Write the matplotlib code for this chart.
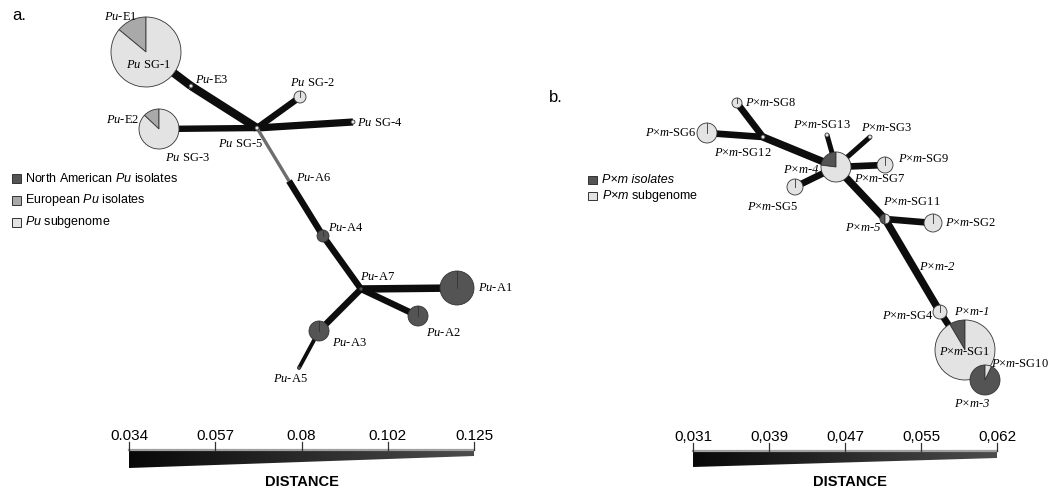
import numpy as np
import matplotlib.pyplot as plt
from matplotlib.patches import Wedge, Circle, Polygon, Rectangle
from matplotlib.colors import LinearSegmentedColormap

plt.rcParams['mathtext.fontset'] = 'custom'
plt.rcParams['mathtext.rm'] = 'Liberation Serif'
plt.rcParams['mathtext.it'] = 'Liberation Serif:italic'
plt.rcParams['mathtext.sf'] = 'Liberation Sans:italic'

DARK = '#545454'
EURO = '#a9a9a9'
LIGHT = '#e3e3e3'
COLS = (DARK, EURO, LIGHT)

# ---- panel a: network (layout in pixel units) ----
a_names = ['SG1', 'E3', 'SG5', 'SG2', 'SG4', 'SG3', 'A6', 'A4', 'A7', 'A1', 'A2', 'A3', 'A5']
a_x = [146, 191, 257, 300, 353, 159, 289, 323, 361, 457, 418, 319, 299]
a_y = [52, 86, 128, 97, 122, 129, 181, 236, 289, 288, 316, 331, 368]
a_r = [35, 2, 2, 6, 2, 20, 0, 6, 1.5, 17, 10, 10, 1.5]
# shares: north american, european, subgenome
a_parts = [(0, .14, .86), (0, 0, 1), (0, 0, 1), (0, 0, 1), (0, 0, 1), (0, .13, .87),
           (1, 0, 0), (1, 0, 0), (1, 0, 0), (1, 0, 0), (1, 0, 0), (1, 0, 0), (1, 0, 0)]
a_edges = [('SG1', 'E3', 6.0), ('E3', 'SG5', 6.0), ('SG3', 'SG5', 4.6), ('SG5', 'SG4', 5.2),
           ('SG5', 'SG2', 4.6), ('SG5', 'A6', 2.4), ('A6', 'A4', 4.6), ('A4', 'A7', 4.6),
           ('A7', 'A1', 5.4), ('A7', 'A2', 4.6), ('A7', 'A3', 4.6), ('A3', 'A5', 2.8)]
a_grey_edges = [('SG5', 'A6')]
a_labels = [r'$\mathit{Pu}$-E1', r'$\mathit{Pu}$ SG-1', r'$\mathit{Pu}$-E3', r'$\mathit{Pu}$ SG-2',
            r'$\mathit{Pu}$ SG-4', r'$\mathit{Pu}$-E2', r'$\mathit{Pu}$ SG-3', r'$\mathit{Pu}$ SG-5',
            r'$\mathit{Pu}$-A6', r'$\mathit{Pu}$-A4', r'$\mathit{Pu}$-A7', r'$\mathit{Pu}$-A1',
            r'$\mathit{Pu}$-A2', r'$\mathit{Pu}$-A3', r'$\mathit{Pu}$-A5']
a_lab_x = [121, 148, 195, 312, 357, 139, 187, 240, 296, 328, 360, 478, 443, 332, 290]
a_lab_y = [17, 65, 80, 83, 123, 120, 158, 144, 178, 228, 277, 288, 333, 343, 379]
a_lab_ha = ['center', 'center', 'left', 'center', 'left', 'right', 'center', 'center',
            'left', 'left', 'left', 'left', 'center', 'left', 'center']
a_legend = [r'North American $\mathsf{Pu}$ isolates', r'European $\mathsf{Pu}$ isolates',
            r'$\mathsf{Pu}$ subgenome']
a_scale = ['0.034', '0.057', '0.08', '0.102', '0.125']

# ---- panel b ----
b_names = ['SG8', 'SG6', 'SG12', 'SG13', 'SG3', 'SG7', 'SG9', 'SG5', 'X5', 'SG2', 'SG4', 'SG1', 'X3']
b_x = [737, 707, 763, 827, 870, 836, 885, 795, 885, 933, 940, 965, 985]
b_y = [103, 133, 137, 135, 137, 167, 165, 187, 219, 223, 312, 350, 380]
b_r = [5, 10, 2, 2, 2, 15, 8, 8, 5, 9, 7, 30, 15]
# shares: isolates, subgenome
b_parts = [(0, 1), (0, 1), (0, 1), (0, 1), (0, 1), (.23, .77), (0, 1), (0, 1), (.5, .5),
           (0, 1), (0, 1), (.085, .915), (.93, .07)]
b_edges = [('SG8', 'SG12', 4.8), ('SG6', 'SG12', 4.8), ('SG12', 'SG7', 5.4), ('SG13', 'SG7', 3.6),
           ('SG3', 'SG7', 3.6), ('SG9', 'SG7', 4.8), ('SG5', 'SG7', 4.8), ('SG7', 'X5', 5.4),
           ('X5', 'SG2', 4.8), ('X5', 'SG4', 5.4), ('SG4', 'SG1', 4.8)]
b_labels = [r'$\mathit{P×m}$-SG8', r'$\mathit{P×m}$-SG6', r'$\mathit{P×m}$-SG12',
            r'$\mathit{P×m}$-SG13', r'$\mathit{P×m}$-SG3', r'$\mathit{P×m}$-SG9', 'P×m-4',
            r'$\mathit{P×m}$-SG7', r'$\mathit{P×m}$-SG5', r'$\mathit{P×m}$-SG11', 'P×m-5',
            r'$\mathit{P×m}$-SG2', 'P×m-2', r'$\mathit{P×m}$-SG4', 'P×m-1',
            r'$\mathit{P×m}$-SG1', r'$\mathit{P×m}$-SG10', 'P×m-3']
b_lab_x = [745, 697, 743, 822, 887, 898, 818, 854, 773, 912, 880, 945, 937, 934, 972, 965, 991, 972]
b_lab_y = [103, 133, 153, 125, 128, 159, 170, 179, 207, 202, 228, 223, 267, 316, 312, 352, 364, 404]
b_lab_ha = ['left', 'right', 'center', 'center', 'center', 'left', 'right', 'left', 'center',
            'center', 'right', 'left', 'center', 'right', 'center', 'center', 'left', 'center']
b_legend = ['P×m isolates', r'$\mathsf{P×m}$ subgenome']
b_scale = ['0,031', '0,039', '0,047', '0,055', '0,062']

fig = plt.figure(figsize=(10.54, 4.92), dpi=100)
ax = fig.add_axes([0, 0, 1, 1])
ax.set_xlim(0, 1054)
ax.set_ylim(492, 0)
ax.axis('off')


def pie(x, y, r, parts, cols):
    # y axis is inverted, so visual angle t is data angle -t
    if r <= 0:
        return
    start = 90
    nz = [p for p in parts if p > 0]
    if len(nz) == 1:
        c = cols[[i for i, p in enumerate(parts) if p > 0][0]]
        ax.add_patch(Circle((x, y), r, fc=c, ec='#333333', lw=0.6, zorder=3))
        if r >= 5:
            ax.plot([x, x], [y, y - r], color='#333333', lw=0.6, zorder=4)
        return
    for frac, col in zip(parts, cols):
        if frac <= 0:
            continue
        th = 360 * frac
        ax.add_patch(Wedge((x, y), r, -(start + th), -start, fc=col, ec='#333333', lw=0.6, zorder=3))
        start += th


def network(names, xs, ys, rs, parts, edges, cols, grey=()):
    pos = {n: (x, y) for n, x, y in zip(names, xs, ys)}
    for n1, n2, w in edges:
        c = '#6e6e6e' if (n1, n2) in grey else '#0d0d0d'
        ax.plot([pos[n1][0], pos[n2][0]], [pos[n1][1], pos[n2][1]], color=c, lw=w,
                solid_capstyle='butt', zorder=2)
    for x, y, r, p in zip(xs, ys, rs, parts):
        pie(x, y, r, p, cols)


def labels(txts, xs, ys, has):
    for t, x, y, ha in zip(txts, xs, ys, has):
        style = 'normal' if '$' in t else 'italic'
        ax.text(x, y, t, ha=ha, va='center', fontsize=9, family='Liberation Serif',
                style=style, zorder=5)


def scale(ticks, x0, x1, ytop, yl, yr, xmid):
    poly = Polygon([(x0, ytop), (x1, ytop), (x1, yr), (x0, yl)], closed=True,
                   fc='none', ec='none')
    ax.add_patch(poly)
    cmap = LinearSegmentedColormap.from_list('g', ['#080808', '#4c4c4c'])
    im = ax.imshow(np.linspace(0, 1, 256)[None, :], extent=(x0, x1, yl, ytop), cmap=cmap,
                   aspect='auto', zorder=2)
    im.set_clip_path(poly)
    ax.plot([x0, x1], [ytop - 1, ytop - 1], color='#a0a0a0', lw=1.6, zorder=3)
    for tx, t in zip(np.linspace(x0, x1, len(ticks)), ticks):
        ax.plot([tx, tx], [ytop - 9, ytop - 1], color='#333333', lw=0.9, zorder=3)
        ax.text(tx, ytop - 15, t, ha='center', va='center', fontsize=11,
                family='Liberation Sans')
    ax.text(xmid, 482, 'DISTANCE', ha='center', va='center', fontsize=10.5,
            family='Liberation Sans', weight='bold')


network(a_names, a_x, a_y, a_r, a_parts, a_edges, COLS, a_grey_edges)
labels(a_labels, a_lab_x, a_lab_y, a_lab_ha)
network(b_names, b_x, b_y, b_r, b_parts, b_edges, (DARK, LIGHT))
labels(b_labels, b_lab_x, b_lab_y, b_lab_ha)

# legends
for i, (t, c) in enumerate(zip(a_legend, COLS)):
    yy = 178 + 22 * i
    ax.add_patch(Rectangle((12, yy - 4.5), 9, 9, fc=c, ec='#333333', lw=0.7))
    ax.text(25, yy, t, ha='left', va='center', fontsize=9, family='Liberation Sans')
for i, (t, c) in enumerate(zip(b_legend, (DARK, LIGHT))):
    yy = 180 + 16 * i
    ax.add_patch(Rectangle((588, yy - 4), 9, 8, fc=c, ec='#333333', lw=0.7))
    ax.text(602, yy, t, ha='left', va='center', fontsize=9, family='Liberation Sans',
            style='italic' if '$' not in t else 'normal')

scale(a_scale, 129, 474, 451, 468, 456, 302)
scale(b_scale, 693, 997, 452, 467, 458, 850)

ax.text(12, 15, 'a.', fontsize=12, family='Liberation Sans', ha='left', va='center')
ax.text(549, 98, 'b.', fontsize=12, family='Liberation Sans', ha='left', va='center')

fig.savefig('out.png', dpi=100)
